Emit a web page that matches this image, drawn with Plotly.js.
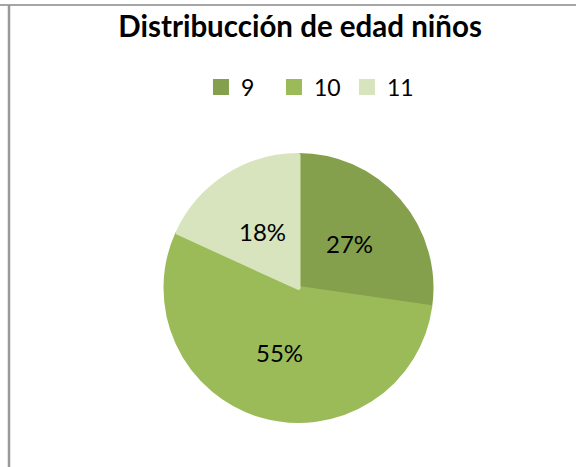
<!DOCTYPE html>
<html>
<head>
<meta charset="utf-8">
<script src="https://cdn.plot.ly/plotly-3.0.1.min.js"></script>
<style>html,body{margin:0;padding:0;background:#fff}#chart{width:576px;height:467px}</style>
</head>
<body>
<div id="chart"></div>
<script>
const categories = ["9", "10", "11"];
const counts = [3, 6, 2];
const sliceColors = ["#84A04C", "#9BBB59", "#D7E4BD"];
const chartTitle = "Distribucción de edad niños";

const W = 576, H = 467;
const cx = 298.5, cy = 288, R = 135;
const FONT = "Lato, 'Open Sans', sans-serif";

const trace = {
  type: "pie",
  labels: categories,
  values: counts,
  sort: false,
  direction: "clockwise",
  rotation: 0,
  marker: {colors: sliceColors, line: {color: sliceColors, width: 4}},
  textinfo: "none",
  hoverinfo: "none",
  domain: {x: [(cx - R + 2) / W, (cx + R - 2) / W], y: [1 - (cy + R - 2) / H, 1 - (cy - R + 2) / H]}
};

// percentage labels placed at half radius along each slice's mid-angle
const total = counts.reduce((a, b) => a + b, 0);
let acc = 0;
const labelAnn = counts.map((v) => {
  const mid = (acc + v / 2) / total * 2 * Math.PI;
  acc += v;
  const r = 0.5 * R;
  return {
    xref: "paper", yref: "paper",
    x: (cx + r * Math.sin(mid)) / W,
    y: 1 - (cy - r * Math.cos(mid)) / H,
    text: Math.round(v / total * 100) + "%",
    showarrow: false, xanchor: "center", yanchor: "middle",
    font: {family: FONT, size: 24, color: "#000"}
  };
});

const layout = {
  width: W, height: H,
  margin: {l: 0, r: 0, t: 0, b: 0},
  paper_bgcolor: "#fff",
  font: {family: FONT, color: "#000"},
  title: {text: "<b>" + chartTitle + "</b>", font: {size: 29.5, color: "#000"}, x: 0.521, xanchor: "center", y: 1 - 27 / H, yanchor: "middle"},
  showlegend: true,
  legend: {orientation: "h", x: 0.539, xanchor: "center", y: 1 - 87 / H, yanchor: "middle", font: {size: 23, color: "#000"}, itemwidth: 30, entrywidth: 28, entrywidthmode: "pixels", traceorder: "normal"},
  annotations: labelAnn,
  shapes: [
    {type: "line", xref: "paper", yref: "paper", x0: 0, x1: 1, y0: 1 - 5 / H, y1: 1 - 5 / H, line: {color: "#888", width: 1.5}},
    {type: "line", xref: "paper", yref: "paper", x0: 9 / W, x1: 9 / W, y0: 0, y1: 1 - 5 / H, line: {color: "#999", width: 2.5}}
  ]
};

Plotly.newPlot("chart", [trace], layout, {displayModeBar: false, staticPlot: true});
</script>
</body>
</html>
